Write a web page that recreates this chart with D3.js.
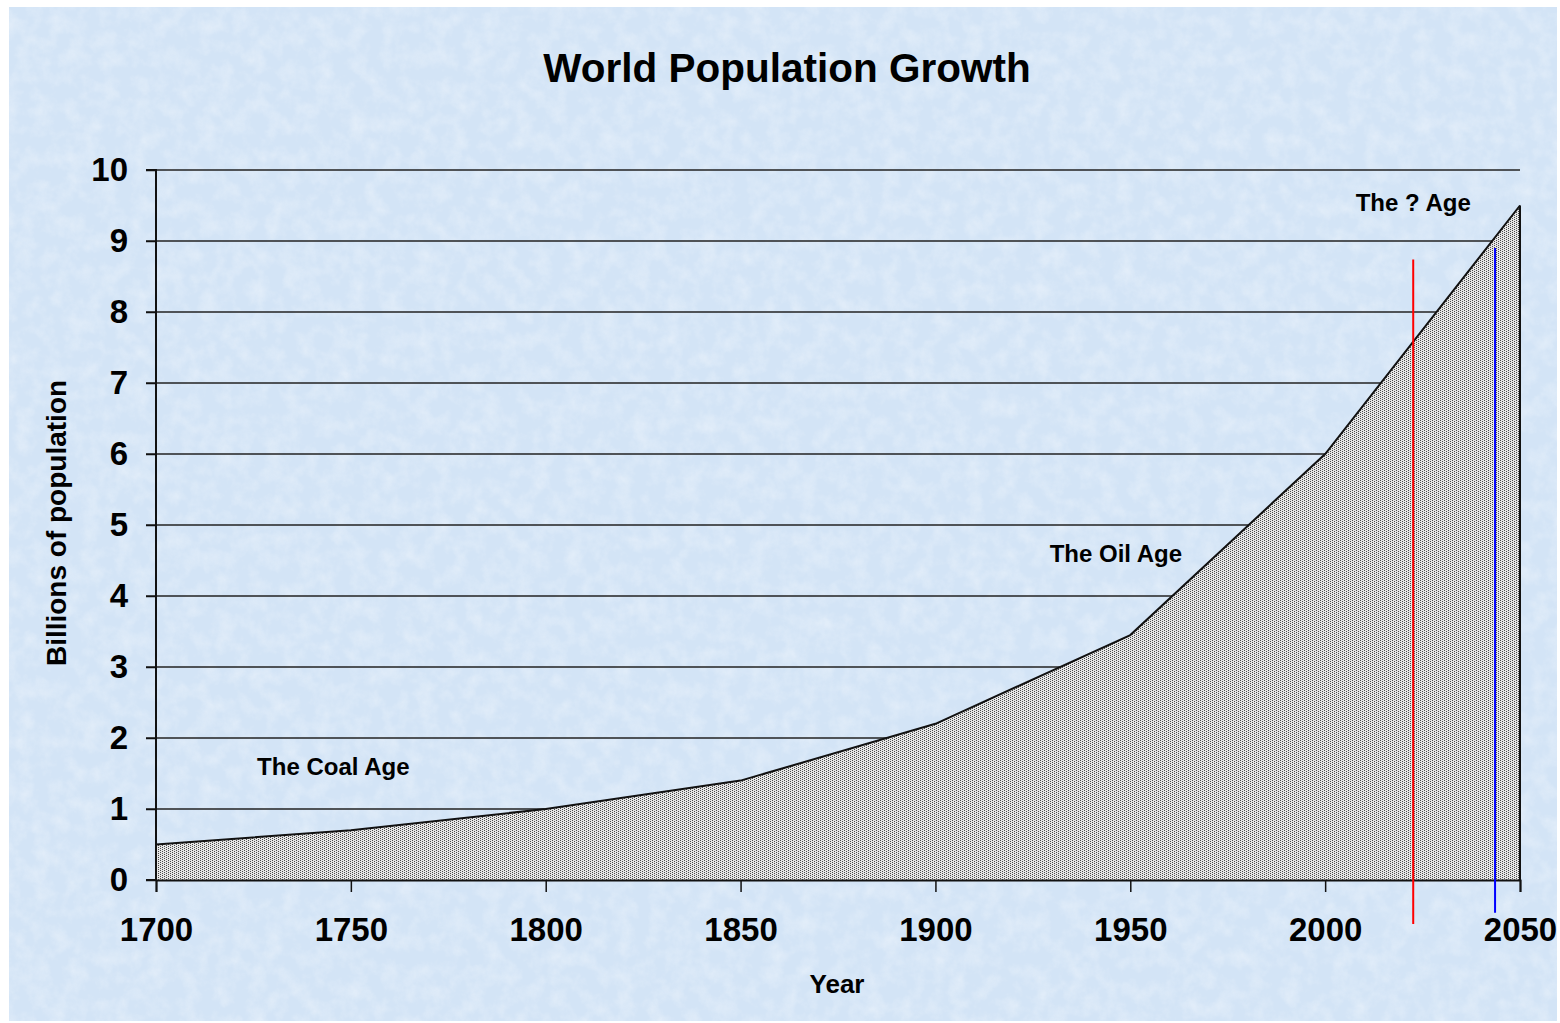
<!DOCTYPE html>
<html><head><meta charset="utf-8">
<script src="https://cdn.jsdelivr.net/npm/d3@7"></script>
<style>html,body{margin:0;padding:0;background:#fff;}svg{display:block;}</style>
</head><body>
<svg id="chart" width="1560" height="1023"></svg>
<script>
// ---- data ----
const years = [1700, 1750, 1800, 1850, 1900, 1950, 2000, 2050];
const population = [0.5, 0.7, 1.0, 1.4, 2.2, 3.45, 6.0, 9.5];
const xTicks = [1700, 1750, 1800, 1850, 1900, 1950, 2000, 2050];
const yTicks = [0, 1, 2, 3, 4, 5, 6, 7, 8, 9, 10];
const ageLabels = ["The Coal Age", "The Oil Age", "The ? Age"];
const ageYears = [1745.5, 1946.3, 2022.6];
const ageValues = [1.48, 4.48, 9.42];
const markerYears = [2022.6, 2043.6];
const markerTop = [8.74, 8.9];
const markerBottom = [-0.62, -0.46];
const markerColors = ["#ff0000", "#0000ff"];

const svg = d3.select("#chart");
const FONT = "Liberation Sans, Arial, sans-serif";

// background
const defs = svg.append("defs");
const f = defs.append("filter").attr("id","tex").attr("x",0).attr("y",0).attr("width","100%").attr("height","100%");
f.append("feTurbulence").attr("type","fractalNoise").attr("baseFrequency","0.06").attr("numOctaves",4).attr("seed",3).attr("result","n");
f.append("feColorMatrix").attr("in","n").attr("type","matrix")
 .attr("values","0 0 0 0 1  0 0 0 0 1  0 0 0 0 1  1.2 0 0 0 -0.45");
const pat = defs.append("pattern").attr("id","dots").attr("patternUnits","userSpaceOnUse").attr("width",4).attr("height",4);
pat.append("rect").attr("width",4).attr("height",4).attr("fill","#e6e6e6");
[[0,0],[2,1],[0,2],[2,3]].forEach(([a,b])=>
  pat.append("rect").attr("x",a).attr("y",b).attr("width",1).attr("height",1).attr("fill","#4a4a4a"));

svg.append("rect").attr("x",9).attr("y",7).attr("width",1548).attr("height",1014).attr("fill","#d3e4f6");
svg.append("rect").attr("x",9).attr("y",7).attr("width",1548).attr("height",1014).attr("filter","url(#tex)").attr("opacity",0.5);

const x = d3.scaleLinear().domain([1700,2050]).range([156,1520]);
const y = d3.scaleLinear().domain([0,10]).range([880,170]);

// gridlines
svg.append("g").selectAll("line").data(yTicks.filter(d=>d>0)).join("line")
  .attr("x1",146).attr("x2",1520).attr("y1",d=>y(d)).attr("y2",d=>y(d))
  .attr("stroke","#222").attr("stroke-width",1.5);

// area
const data = years.map((yr,i)=>({yr, v:population[i]}));
svg.append("path").datum(data)
  .attr("d", d3.area().x(d=>x(d.yr)).y0(y(0)).y1(d=>y(d.v)))
  .attr("fill","url(#dots)");
svg.append("path").datum(data)
  .attr("d", d3.line().x(d=>x(d.yr)).y(d=>y(d.v)))
  .attr("fill","none").attr("stroke","#111").attr("stroke-width",2);
svg.append("line").attr("x1",x(2050)).attr("x2",x(2050)).attr("y1",y(population[population.length-1])).attr("y2",y(0))
  .attr("stroke","#111").attr("stroke-width",2);

// axes
const yAxis = d3.axisLeft(y).tickValues(yTicks).tickSize(10).tickPadding(18).tickFormat(d3.format("d"));
const gy = svg.append("g").attr("transform","translate(156,0)").call(yAxis);
const xAxis = d3.axisBottom(x).tickValues(xTicks).tickSize(12).tickPadding(26).tickFormat(d3.format("d"));
const gx = svg.append("g").attr("transform","translate(0,880)").call(xAxis);
[gx,gy].forEach(g=>{
  g.select(".domain").attr("stroke","#111").attr("stroke-width",2);
  g.selectAll(".tick line").attr("stroke","#111").attr("stroke-width",1.5);
  g.selectAll("text").attr("font-family",FONT).attr("font-weight","bold").attr("font-size",33).attr("fill","#000");
});
gy.select(".domain").attr("d","M-10,880H0V170H-10");

// markers
svg.append("g").selectAll("line").data(markerYears).join("line")
  .attr("x1",d=>x(d)).attr("x2",d=>x(d))
  .attr("y1",(d,i)=>y(markerTop[i])).attr("y2",(d,i)=>y(markerBottom[i]))
  .attr("stroke",(d,i)=>markerColors[i]).attr("stroke-width",2);

// labels
svg.append("g").selectAll("text").data(ageLabels).join("text")
  .attr("x",(d,i)=>x(ageYears[i])).attr("y",(d,i)=>y(ageValues[i]))
  .attr("text-anchor","middle")
  .attr("font-family",FONT).attr("font-weight","bold").attr("font-size",24)
  .text(d=>d);

svg.append("text").attr("x",787).attr("y",82).attr("text-anchor","middle")
  .attr("font-family",FONT).attr("font-weight","bold").attr("font-size",40.5)
  .text("World Population Growth");
svg.append("text").attr("x",837).attr("y",993).attr("text-anchor","middle")
  .attr("font-family",FONT).attr("font-weight","bold").attr("font-size",26)
  .text("Year");
svg.append("text").attr("transform","translate(66,523) rotate(-90)").attr("text-anchor","middle")
  .attr("font-family",FONT).attr("font-weight","bold").attr("font-size",28)
  .text("Billions of population");
</script>
</body></html>
